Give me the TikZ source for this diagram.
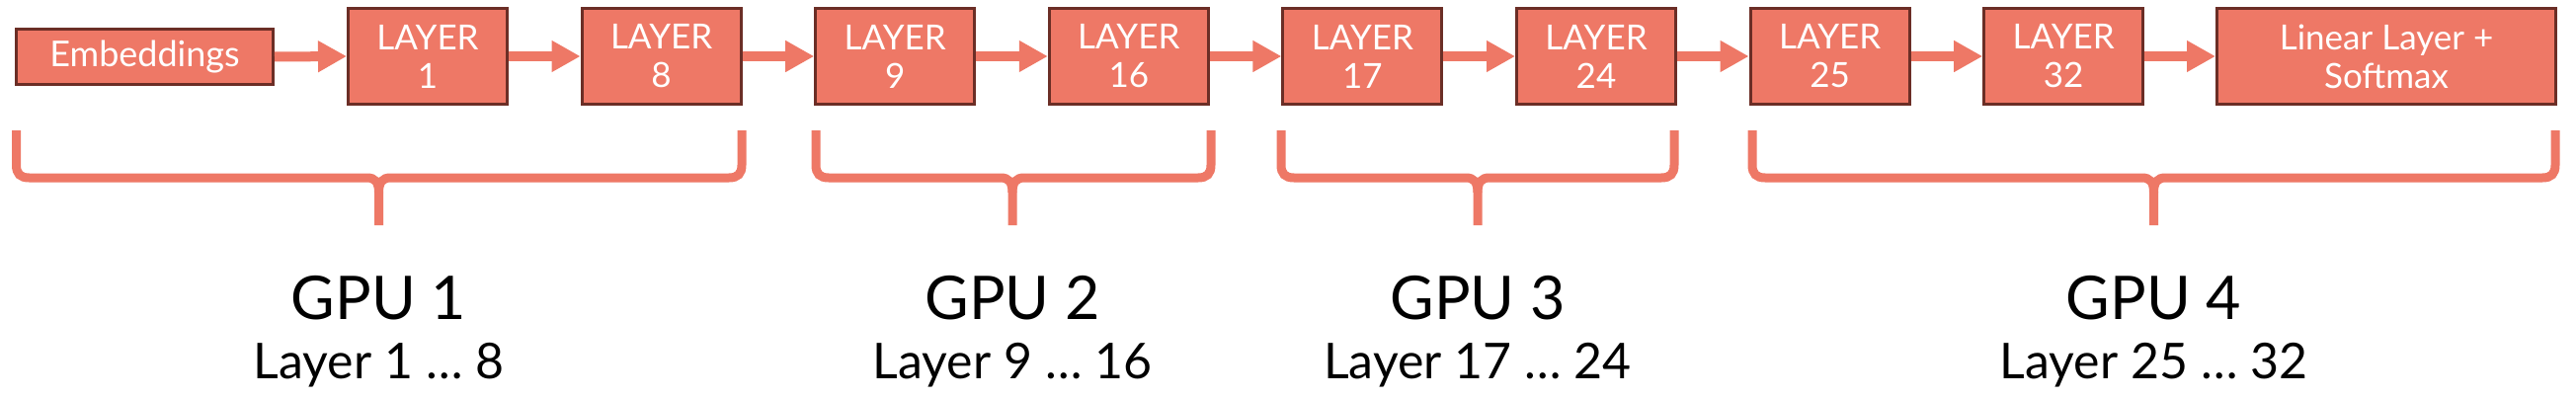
\documentclass[tikz,border=0pt]{standalone}
\usepackage{fontspec}
\setmainfont{Lato}
\usetikzlibrary{arrows.meta}
\definecolor{salmon}{HTML}{EE7866}
\definecolor{edgebrown}{HTML}{6B2E26}
\newcommand\gpubrace[3]{%
  \draw[bracestyle] (#1,132) -- (#1,167) .. controls (#1,176) and (#1+4,180) .. (#1+13,180) -- (#3-12,180) .. controls (#3-4,180) and (#3,184) .. (#3,195) -- (#3,228);
  \draw[bracestyle] (#2,132) -- (#2,167) .. controls (#2,176) and (#2-4,180) .. (#2-13,180) -- (#3+12,180) .. controls (#3+4,180) and (#3,184) .. (#3,195);
}
\begin{document}
\begin{tikzpicture}[x=1pt,y=-1pt,
  layerbox/.style={draw=edgebrown, fill=salmon, line width=3pt, minimum width=161pt, minimum height=97pt, inner sep=0pt, text=white, font=\fontsize{35}{39}\selectfont, align=center},
  flow/.style={draw=salmon, line width=10pt, -{Triangle[length=29pt,width=30pt]}},
  bracestyle/.style={draw=salmon, line width=9pt},
  gpulabel/.style={anchor=base, inner sep=0pt, font=\fontsize{61}{61}\selectfont},
  rangelabel/.style={anchor=base, inner sep=0pt, font=\fontsize{50}{50}\selectfont}]
\useasboundingbox (0,0) rectangle (2608,404);
\fill[white] (0,0) rectangle (2608,404);

\node[layerbox, minimum width=260pt, minimum height=56pt, font=\fontsize{36}{40}\selectfont] (emb) at (146.5,57.5) {Embeddings};
\node[layerbox] (l1)  at (433,57)    {LAYER\\1};
\node[layerbox] (l8)  at (669.6,57)  {LAYER\\8};
\node[layerbox] (l9)  at (906.2,57)  {LAYER\\9};
\node[layerbox] (l16) at (1142.8,57) {LAYER\\16};
\node[layerbox] (l17) at (1379.4,57) {LAYER\\17};
\node[layerbox] (l24) at (1616,57)   {LAYER\\24};
\node[layerbox] (l25) at (1852.6,57) {LAYER\\25};
\node[layerbox] (l32) at (2089.2,57) {LAYER\\32};
\node[layerbox, minimum width=343pt] (lin) at (2416,57) {Linear Layer +\\Softmax};

\draw[flow] (emb.east) -- (l1.west);
\draw[flow] (l1.east) -- (l8.west);
\draw[flow] (l8.east) -- (l9.west);
\draw[flow] (l9.east) -- (l16.west);
\draw[flow] (l16.east) -- (l17.west);
\draw[flow] (l17.east) -- (l24.west);
\draw[flow] (l24.east) -- (l25.west);
\draw[flow] (l25.east) -- (l32.west);
\draw[flow] (l32.east) -- (lin.west);

\gpubrace{16.5}{751}{383.5}
\gpubrace{826}{1226}{1025}
\gpubrace{1297}{1695}{1496}
\gpubrace{1774}{2587}{2180.5}

\node[gpulabel] (g1) at (383.5,323) {GPU 1};
\node[rangelabel] (r1) at (383.5,383) {Layer 1 … 8};
\node[gpulabel] (g2) at (1025,323) {GPU 2};
\node[rangelabel] (r2) at (1025,383) {Layer 9 … 16};
\node[gpulabel] (g3) at (1496,323) {GPU 3};
\node[rangelabel] (r3) at (1496,383) {Layer 17 … 24};
\node[gpulabel] (g4) at (2180.5,323) {GPU 4};
\node[rangelabel] (r4) at (2180.5,383) {Layer 25 … 32};
\end{tikzpicture}
\end{document}
